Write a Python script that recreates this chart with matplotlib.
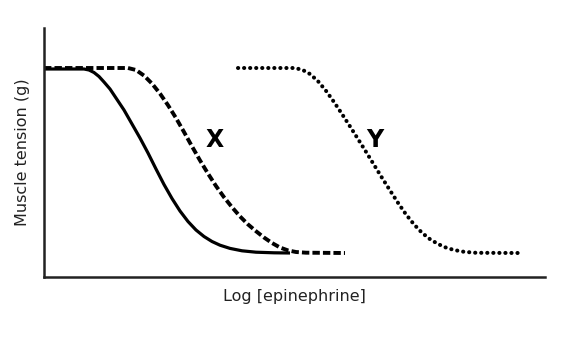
import matplotlib
matplotlib.use("Agg")
import matplotlib.pyplot as plt

# Curves (x: log concentration units, y: tension units)
solid_x = [0, 40, 45, 50, 55, 60, 66, 72, 80, 88, 96, 104, 112, 120, 128, 136,
           144, 152, 160, 168, 176, 186, 198, 212, 230, 246]
solid_y = [208, 208, 207, 204.5, 200.5, 195, 188, 179, 167, 153, 139, 124, 108,
           92.5, 78.5, 66, 55.5, 47, 40.5, 35.5, 31.8, 28.6, 26.2, 24.8, 24.2, 24]

dashed_x = [0, 84, 92, 100, 108, 116, 124, 132, 140, 148, 156, 164, 172, 180,
            188, 196, 204, 212, 220, 228, 236, 244, 252, 262, 301]
dashed_y = [209, 209, 207, 201.4, 193.4, 183.4, 171.8, 159, 145, 130.6, 116.6,
            103.4, 91, 79.8, 69.8, 60.6, 52.6, 45.8, 39.5, 34, 29.5, 26.6, 25,
            24.3, 24]

dotted_x = [194, 250, 258, 266, 274, 282, 290, 298, 306, 314, 322, 330, 338,
            346, 354, 362, 370, 378, 386, 394, 402, 410, 420, 432, 476]
dotted_y = [209, 209, 207.4, 203, 195.8, 186.2, 175, 163, 150.6, 138, 125.2,
            112.2, 99.2, 86.6, 74.2, 62.6, 52.6, 44.2, 37.8, 33, 29.4, 27,
            25.2, 24.2, 24]

labels = ["X", "Y"]
label_x = [171, 331]
label_y = [137, 137]

fig = plt.figure(figsize=(5.68, 3.38), dpi=100)
ax = fig.add_axes([44/568, 1-277/338, 501/568, 249/338])

ax.plot(solid_x, solid_y, color="black", lw=2.3, solid_capstyle="butt", solid_joinstyle="round")
ax.plot(dashed_x, dashed_y, color="black", lw=2.8, linestyle=(0, (1.9, 0.8)), dash_capstyle="butt", dash_joinstyle="round")
ax.plot(dotted_x, dotted_y, color="black", lw=2.9, linestyle=(0, (0.05, 1.45)), dash_capstyle="round")

for t, x, y in zip(labels, label_x, label_y):
    ax.text(x, y, t, fontsize=17, fontweight="bold", ha="center", va="center")

ax.set_xlim(0, 501)
ax.set_ylim(0, 249)
ax.set_xticks([])
ax.set_yticks([])
for s in ["top", "right"]:
    ax.spines[s].set_visible(False)
for s in ["left", "bottom"]:
    ax.spines[s].set_linewidth(1.8)
    ax.spines[s].set_color("#222222")

ax.set_xlabel("Log [epinephrine]", fontsize=11.5, color="#222222", labelpad=9)
ax.set_ylabel("Muscle tension (g)", fontsize=11.5, color="#222222", labelpad=10)

fig.savefig("out.png", dpi=100)
